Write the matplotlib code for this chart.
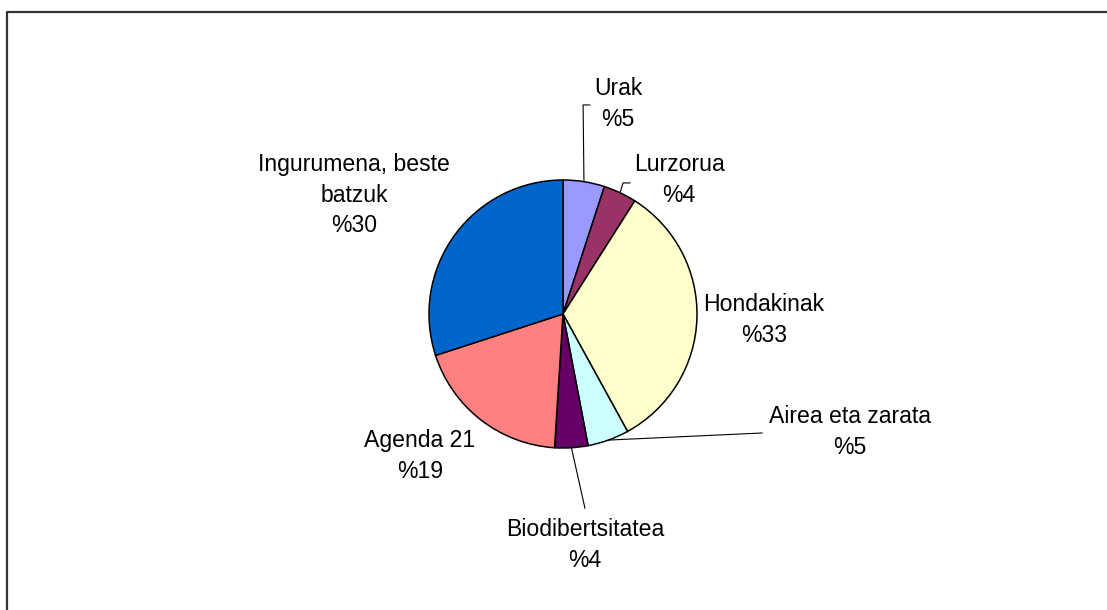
import numpy as np
import matplotlib.pyplot as plt
from matplotlib.lines import Line2D

plt.rc('font', family=['Liberation Sans', 'DejaVu Sans'])

labels = ['Urak', 'Lurzorua', 'Hondakinak', 'Airea eta zarata',
          'Biodibertsitatea', 'Agenda 21', 'Ingurumena, beste\nbatzuk']
values = [5, 4, 33, 5, 4, 19, 30]
colors = ['#9999FF', '#993366', '#FFFFCC', '#CCFFFF', '#660066', '#FF8080', '#0066CC']

# label centres (data units, radius = 1)
label_pos = [(0.41, 1.567), (0.866, 1.0), (1.5, -0.045), (2.14, -0.88),
             (0.164, -1.724), (-1.067, -1.06), (-1.56, 0.888)]
# leader lines: intermediate points after the wedge edge, None = no leader
leaders = [[(0.15, 1.56), (0.2, 1.56)],
           [(0.448, 0.978), (0.5, 0.978)],
           None,
           [(1.485, -0.888)],
           [(0.164, -1.45)],
           None,
           None]

W, H = 1107, 610
fig = plt.figure(figsize=(W/100, H/100), dpi=100)
cx, cy, r = 563, 314, 134
ax = fig.add_axes([(cx-r)/W, (H-cy-r)/H, 2*r/W, 2*r/H])

wedges, _ = ax.pie(values, colors=colors, startangle=90, counterclock=False, radius=1,
                   wedgeprops=dict(edgecolor='black', linewidth=1.1))
ax.set_xlim(-1, 1)
ax.set_ylim(-1, 1)
ax.set_aspect('equal')
ax.axis('off')

for w, lab, v, pos, ld in zip(wedges, labels, values, label_pos, leaders):
    ax.text(pos[0], pos[1], lab + '\n%' + str(v), ha='center', va='center',
            fontsize=16.6, linespacing=1.43, clip_on=False)
    if ld is not None:
        mid = np.deg2rad((w.theta1 + w.theta2) / 2)
        pts = [(np.cos(mid), np.sin(mid))] + ld
        xs, ys = zip(*pts)
        ax.plot(xs, ys, color='black', linewidth=0.8, clip_on=False)

# outer frame (only top and left visible inside the image)
fig.add_artist(Line2D([6.5/W, 6.5/W, 1.01], [-0.01, 1-11.5/H, 1-11.5/H],
                      transform=fig.transFigure, color='#333333', linewidth=1.6))

plt.savefig('out.png', dpi=100)
